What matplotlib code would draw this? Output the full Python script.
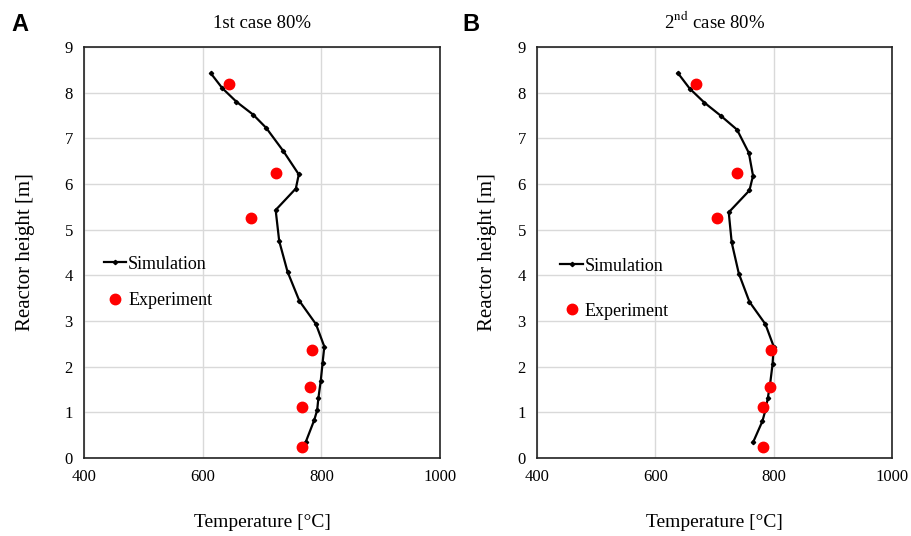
import matplotlib.pyplot as plt

plt.rcParams['font.family'] = ['Liberation Serif', 'DejaVu Serif']
plt.rcParams['mathtext.fontset'] = 'stix'

# Case 1 (panel A)
sim1_temp = [614, 633, 657, 685, 707, 736, 762, 757, 723, 729, 743, 763, 791, 805, 802, 799, 795, 793, 788, 774]
sim1_height = [8.42, 8.10, 7.80, 7.52, 7.23, 6.72, 6.21, 5.90, 5.43, 4.75, 4.08, 3.44, 2.93, 2.44, 2.07, 1.69, 1.31, 1.05, 0.83, 0.36]
exp1_temp = [644, 723, 681, 784, 781, 767, 767]
exp1_height = [8.20, 6.24, 5.26, 2.37, 1.56, 1.12, 0.25]

# Case 2 (panel B)
sim2_temp = [638, 658, 683, 711, 738, 758, 765, 759, 724, 729, 741, 759, 786, 800, 798, 794, 790, 786, 781, 765]
sim2_height = [8.43, 8.09, 7.78, 7.49, 7.19, 6.68, 6.18, 5.86, 5.38, 4.72, 4.04, 3.42, 2.93, 2.44, 2.05, 1.63, 1.31, 1.05, 0.81, 0.34]
exp2_temp = [669, 738, 704, 796, 794, 782, 782]
exp2_height = [8.20, 6.24, 5.26, 2.37, 1.56, 1.12, 0.25]

titles = ['1st case 80%', r'2$^{\mathrm{nd}}$ case 80%']
x_ticks = [400, 600, 800, 1000]
y_ticks = list(range(0, 10))

fig = plt.figure(figsize=(9.11, 5.36), dpi=100)
ax1 = fig.add_axes([0.0922, 0.1455, 0.3908, 0.7668])
ax2 = fig.add_axes([0.5895, 0.1455, 0.3897, 0.7668])

panels = [
    (ax1, sim1_temp, sim1_height, exp1_temp, exp1_height, (0.035, 0.51), 1.1, 21),
    (ax2, sim2_temp, sim2_height, exp2_temp, exp2_height, (0.045, 0.505), 1.55, 15),
]

for i, (ax, st, sh, et, eh, legpos, lspace, ypad) in enumerate(panels):
    ax.plot(st, sh, color='black', lw=1.6, marker='D', ms=2.2, label='Simulation', zorder=3)
    ax.plot(et, eh, ls='none', marker='o', color='#ff0000', ms=7.5, label='Experiment', zorder=4)
    ax.set_xlim(400, 1000)
    ax.set_ylim(0, 9)
    ax.set_xticks(x_ticks)
    ax.set_yticks(y_ticks)
    ax.grid(True, color='#d9d9d9', lw=1)
    ax.set_axisbelow(True)
    ax.tick_params(length=0, labelsize=12, pad=8)
    for sp in ax.spines.values():
        sp.set_color('#222222')
        sp.set_linewidth(1.2)
    ax.set_xlabel('Temperature [°C]', fontsize=14, labelpad=21)
    ax.set_ylabel('Reactor height [m]', fontsize=15, labelpad=ypad)
    ax.set_title(titles[i], fontsize=13.5, pad=14)
    ax.legend(loc='upper left', bbox_to_anchor=legpos, frameon=False, fontsize=13,
              handlelength=1.25, handletextpad=0.1, labelspacing=lspace, borderaxespad=0)

fig.text(0.012, 0.955, 'A', fontsize=17, fontweight='bold', family='Liberation Sans', va='center')
fig.text(0.508, 0.955, 'B', fontsize=17, fontweight='bold', family='Liberation Sans', va='center')

fig.savefig('out.png', dpi=100)
